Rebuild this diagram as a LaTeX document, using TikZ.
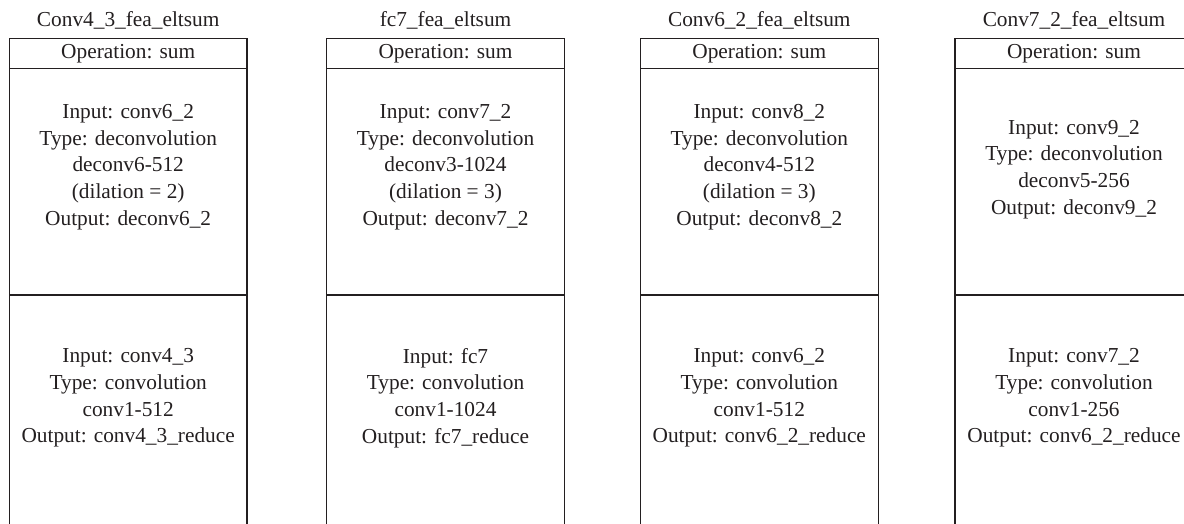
\documentclass[tikz,border=0pt]{standalone}
\usepackage{fontspec}
\setmainfont{Liberation Serif}
\definecolor{ink}{RGB}{35,31,32}
\begin{document}
\begin{tikzpicture}[x=0.75pt,y=-0.75pt,
  txt/.style={font=\fontsize{16}{20}\selectfont, text=ink, inner sep=0pt},
  multi/.style={txt, align=center, anchor=center},
  frame/.style={draw=ink, line width=0.9pt}]
\useasboundingbox (0,0) rectangle (1184,524);
\clip (0,0) rectangle (1184,524);

% column frames: open at the bottom, header row and two sections
\foreach \l/\r in {9.5/247, 326.7/564.3, 640.3/878.3, 955/1193}{
  \draw[frame] (\l,560) -- (\l,38.5) -- (\r,38.5) -- (\r,560);
  \draw[frame] (\l,68.5) -- (\r,68.5);
  \draw[frame] (\l,295) -- (\r,295);
}

% column titles
\node[txt, anchor=base] (t1) at (128.2,26.8) {Conv4\_3\_fea\_eltsum};
\node[txt, anchor=base] (t2) at (445.5,26.8) {fc7\_fea\_eltsum};
\node[txt, anchor=base] (t3) at (759.3,26.8) {Conv6\_2\_fea\_eltsum};
\node[txt, anchor=base] (t4) at (1074,26.8) {Conv7\_2\_fea\_eltsum};

% header rows
\node[txt, anchor=base] (h1) at (128.2,59) {Operation: sum};
\node[txt, anchor=base] (h2) at (445.5,59) {Operation: sum};
\node[txt, anchor=base] (h3) at (759.3,59) {Operation: sum};
\node[txt, anchor=base] (h4) at (1074,59) {Operation: sum};

% deconvolution branches
\node[multi] (u1) at (128.2,167) {Input: conv6\_2\\Type: deconvolution\\deconv6-512\\(dilation = 2)\\Output: deconv6\_2};
\node[multi] (u2) at (445.5,167) {Input: conv7\_2\\Type: deconvolution\\deconv3-1024\\(dilation = 3)\\Output: deconv7\_2};
\node[multi] (u3) at (759.3,167) {Input: conv8\_2\\Type: deconvolution\\deconv4-512\\(dilation = 3)\\Output: deconv8\_2};
\node[multi] (u4) at (1074,169.5) {Input: conv9\_2\\Type: deconvolution\\deconv5-256\\Output: deconv9\_2};

% convolution branches
\node[multi] (b1) at (128.2,398) {Input: conv4\_3\\Type: convolution\\conv1-512\\Output: conv4\_3\_reduce};
\node[multi] (b2) at (445.5,398) {Input: fc7\\Type: convolution\\conv1-1024\\Output: fc7\_reduce};
\node[multi] (b3) at (759.3,398) {Input: conv6\_2\\Type: convolution\\conv1-512\\Output: conv6\_2\_reduce};
\node[multi] (b4) at (1074,398) {Input: conv7\_2\\Type: convolution\\conv1-256\\Output: conv6\_2\_reduce};
\end{tikzpicture}
\end{document}
